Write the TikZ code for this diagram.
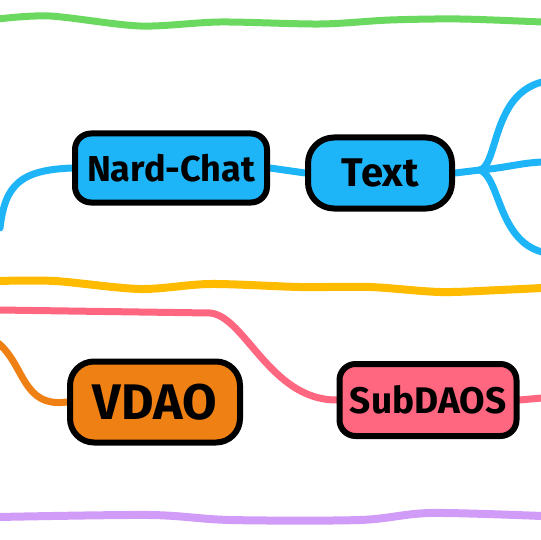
\documentclass[tikz,border=0pt]{standalone}
\usepackage{fontspec}
\setmainfont{Fira Sans}
\usetikzlibrary{positioning, backgrounds}

\definecolor{skyblue}{HTML}{1EB4F8}
\definecolor{carrot}{HTML}{EF8014}
\definecolor{rosepink}{HTML}{FF6680}
\definecolor{leafgreen}{HTML}{6BD95F}
\definecolor{sunyellow}{HTML}{FFBB00}
\definecolor{lilac}{HTML}{D09CF8}

\tikzset{
    tag/.style={draw=black, line width=6pt, rounded corners=16pt, inner sep=0pt, font=\bfseries},
    wire/.style={line width=7pt, line cap=round},
    band/.style={line width=8pt}
}

\begin{document}
\begin{tikzpicture}[x=1pt, y=-1pt]
    \useasboundingbox (0,0) rectangle (540,540);

    % Tags
    \node[tag, fill=skyblue, minimum width=192pt, minimum height=69pt] (nard) at (171,168) {\fontsize{36}{42}\selectfont Nard-Chat};
    \node[tag, fill=skyblue, minimum width=144pt, minimum height=71pt, rounded corners=26pt] (text) at (380,173) {\fontsize{40}{46}\selectfont Text};
    \node[tag, fill=carrot, minimum width=170pt, minimum height=81pt, rounded corners=24pt] (vdao) at (155,402) {\fontsize{50}{56}\selectfont VDAO};
    \node[tag, fill=rosepink, minimum width=177pt, minimum height=72pt] (sub) at (428,400) {\fontsize{37}{43}\selectfont SubDAOS};

    % Free ends
    \coordinate (bl) at (0,228);
    \coordinate (fork) at (480,170);
    \coordinate (up) at (542,82);
    \coordinate (mid) at (542,162);
    \coordinate (dn) at (542,252);
    \coordinate (pl) at (-2,310);
    \coordinate (pr) at (542,398);
    \coordinate (ol) at (-2,343);

    \begin{scope}[on background layer]
        % Bands
        \draw[band, leafgreen, line width=7pt] plot[smooth] coordinates {(-2,19) (50,16) (140,26) (220,22) (320,24) (390,20) (460,19) (542,22)};
        \draw[band, sunyellow] plot[smooth] coordinates {(-2,281) (55,281) (140,289) (210,284) (300,287) (370,287) (440,292) (500,290) (542,288)};
        \draw[band, lilac] plot[smooth] coordinates {(-2,517) (150,515) (230,520) (360,520) (430,513) (542,516)};

        % Blue branch
        \draw[wire, skyblue] (bl) .. controls (5,185) and (20,170) .. (nard.west);
        \draw[wire, skyblue] (nard.east) -- (text.west);
        \draw[wire, skyblue] (text.east) -- (fork);
        \draw[wire, skyblue] (fork) .. controls (498,165) and (492,95) .. (up);
        \draw[wire, skyblue] (fork) .. controls (505,168) and (520,163) .. (mid);
        \draw[wire, skyblue] (fork) .. controls (500,178) and (498,240) .. (dn);

        % Pink branch
        \draw[wire, rosepink] (pl) -- (210,313) .. controls (245,316) and (270,400) .. (sub.west);
        \draw[wire, rosepink] (sub.east) -- (pr);

        % Orange branch
        \draw[wire, carrot] (ol) .. controls (25,365) and (22,408) .. (vdao.west);
    \end{scope}
\end{tikzpicture}
\end{document}
